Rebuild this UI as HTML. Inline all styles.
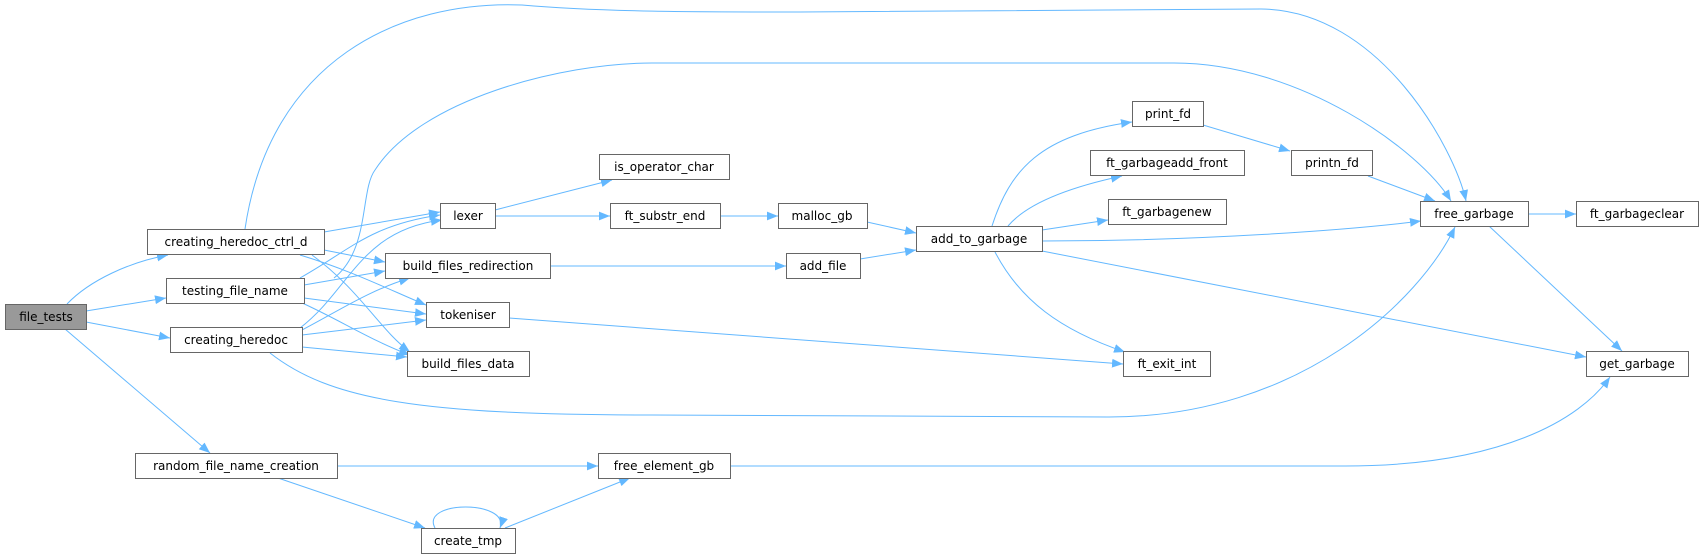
<!DOCTYPE html>
<html><head><meta charset="utf-8"><style>
html,body{margin:0;padding:0;background:#fff;width:1704px;height:559px;overflow:hidden}
text{font-family:"DejaVu Sans","Liberation Sans",sans-serif;font-size:12px;fill:#000}
</style></head><body>
<svg width="1704" height="559" xmlns="http://www.w3.org/2000/svg">
<defs><marker id="a" viewBox="0 0 10 10" refX="10" refY="5" markerWidth="11" markerHeight="11" markerUnits="userSpaceOnUse" orient="auto"><path d="M0,1 L10,5 L0,9 z" fill="#63b8ff"/></marker></defs>
<g fill="none" stroke="#63b8ff" stroke-width="1" marker-end="url(#a)">
<path d="M67,304 C90,280 130,262 168,255"/>
<path d="M86,311 L166,298"/>
<path d="M86,322 L170,338"/>
<path d="M65,329 L210,453"/>
<path d="M245,229 C270,60 400,0 522,5 C600,12 700,12 800,12 L1261,9 C1380,10 1455,150 1466,201"/>
<path d="M334,278 C370,250 360,190 375,170 C420,100 560,63 652,63 L1174,63 C1300,63 1420,150 1451,201"/>
<path d="M270,353 C330,400 420,415 652,415 L1109,417 C1300,417 1420,300 1455,227"/>
<path d="M324,232 L440,212"/>
<path d="M324,250 L385,262"/>
<path d="M300,255 C350,270 390,290 426,305"/>
<path d="M312,255 C360,290 380,330 410,352"/>
<path d="M300,278 C350,250 370,225 440,215"/>
<path d="M304,285 L385,271"/>
<path d="M304,298 L426,314"/>
<path d="M300,302 C340,320 370,340 410,355"/>
<path d="M300,328 C350,290 360,230 442,220"/>
<path d="M302,330 C340,310 370,290 410,278"/>
<path d="M302,335 L426,320"/>
<path d="M302,347 L407,357"/>
<path d="M495,210 L612,180"/>
<path d="M495,216 L610,216"/>
<path d="M720,216 L778,216"/>
<path d="M867,222 L916,233"/>
<path d="M550,266 L786,266"/>
<path d="M860,259 L916,250"/>
<path d="M509,318 L1123,364"/>
<path d="M992,226 C1010,170 1040,135 1132,122"/>
<path d="M1008,226 C1030,200 1080,185 1122,176"/>
<path d="M1042,230 L1108,220"/>
<path d="M1042,241 C1200,241 1350,230 1421,221"/>
<path d="M1042,251 L1586,357"/>
<path d="M995,252 C1020,300 1060,330 1125,352"/>
<path d="M1203,125 L1290,151"/>
<path d="M1368,176 L1435,201"/>
<path d="M1528,214 L1576,214"/>
<path d="M1489,226 L1622,351"/>
<path d="M337,466 L598,466"/>
<path d="M278,478 L425,528"/>
<path d="M435,528 C420,500 510,500 500,528"/>
<path d="M505,528 L630,478"/>
<path d="M730,466 L1345,466 C1500,466 1580,420 1610,377"/>
</g>
<g stroke="#666" stroke-width="1" fill="#fff">
<rect x="5.5" y="304.5" width="81" height="25" fill="#999"/>
<rect x="147.5" y="229.5" width="177" height="25"/>
<rect x="166.5" y="278.5" width="138" height="25"/>
<rect x="170.5" y="327.5" width="132" height="25"/>
<rect x="135.5" y="453.5" width="202" height="25"/>
<rect x="440.5" y="203.5" width="55" height="25"/>
<rect x="385.5" y="253.5" width="165" height="25"/>
<rect x="426.5" y="302.5" width="83" height="25"/>
<rect x="407.5" y="351.5" width="122" height="25"/>
<rect x="421.5" y="528.5" width="94" height="25"/>
<rect x="599.5" y="154.5" width="130" height="25"/>
<rect x="610.5" y="203.5" width="110" height="25"/>
<rect x="598.5" y="453.5" width="132" height="25"/>
<rect x="778.5" y="203.5" width="89" height="25"/>
<rect x="786.5" y="253.5" width="74" height="25"/>
<rect x="916.5" y="226.5" width="126" height="25"/>
<rect x="1132.5" y="101.5" width="71" height="25"/>
<rect x="1090.5" y="150.5" width="154" height="25"/>
<rect x="1108.5" y="199.5" width="118" height="25"/>
<rect x="1123.5" y="351.5" width="87" height="25"/>
<rect x="1291.5" y="150.5" width="81" height="25"/>
<rect x="1420.5" y="201.5" width="108" height="25"/>
<rect x="1576.5" y="201.5" width="122" height="25"/>
<rect x="1586.5" y="351.5" width="102" height="25"/>
</g>
<g text-anchor="middle">
<text x="46" y="321">file_tests</text>
<text x="236" y="246">creating_heredoc_ctrl_d</text>
<text x="235" y="295">testing_file_name</text>
<text x="236" y="344">creating_heredoc</text>
<text x="236" y="470">random_file_name_creation</text>
<text x="468" y="220">lexer</text>
<text x="468" y="270">build_files_redirection</text>
<text x="468" y="319">tokeniser</text>
<text x="468" y="368">build_files_data</text>
<text x="468" y="545">create_tmp</text>
<text x="664" y="171">is_operator_char</text>
<text x="665" y="220">ft_substr_end</text>
<text x="664" y="470">free_element_gb</text>
<text x="822" y="220">malloc_gb</text>
<text x="823" y="270">add_file</text>
<text x="979" y="243">add_to_garbage</text>
<text x="1168" y="118">print_fd</text>
<text x="1167" y="167">ft_garbageadd_front</text>
<text x="1167" y="216">ft_garbagenew</text>
<text x="1167" y="368">ft_exit_int</text>
<text x="1332" y="167">printn_fd</text>
<text x="1474" y="218">free_garbage</text>
<text x="1637" y="218">ft_garbageclear</text>
<text x="1637" y="368">get_garbage</text>
</g>
</svg>
</body></html>
